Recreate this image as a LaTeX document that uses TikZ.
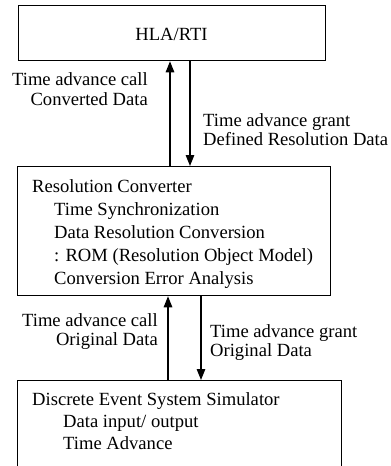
\documentclass[tikz,border=0pt]{standalone}
\usepackage{fontspec}
\setmainfont{Liberation Serif}
\usetikzlibrary{arrows.meta}
\begin{document}
\begin{tikzpicture}[x=1pt,y=-1pt,
  box/.style={draw, line width=1.3pt, inner sep=0pt, anchor=north west},
  txt/.style={inner sep=0pt, font=\fontsize{18.6}{22}\selectfont},
  lbl/.style={inner sep=0pt, font=\fontsize{18.6}{22}\selectfont},
  arr/.style={line width=1.3pt, -{Triangle[length=11pt,width=8.5pt]}}]
\useasboundingbox (0,0) rectangle (391,466);
% boxes
\node[box, minimum width=307pt, minimum height=55pt] (hla) at (18,5) {};
\node[txt, anchor=base] (hlat) at (171.5,40) {HLA/RTI};
\node[box, minimum width=313pt, minimum height=129pt] (rc) at (17,166) {};
\node[box, minimum width=324pt, minimum height=110pt] (des) at (17,380) {};
% RC text
\node[txt, anchor=base west] (rc1) at (32,192) {Resolution Converter};
\node[txt, anchor=base west] (rc2) at (54,215) {Time Synchronization};
\node[txt, anchor=base west] (rc3) at (54,238) {Data Resolution Conversion};
\node[txt, anchor=base west] (rc4) at (54,261) {: ROM (Resolution Object Model)};
\node[txt, anchor=base west] (rc5) at (54,284) {Conversion Error Analysis};
% DES text
\node[txt, anchor=base west] (d1) at (32,405) {Discrete Event System Simulator};
\node[txt, anchor=base west] (d2) at (63,427) {Data input/ output};
\node[txt, anchor=base west] (d3) at (63,449) {Time Advance};
% arrows
\draw[arr] (rc.north -| 170,0) -- (hla.south -| 170,0);
\draw[arr] (hla.south -| 190,0) -- (rc.north -| 190,0);
\draw[arr] (des.north -| 168,0) -- (rc.south -| 168,0);
\draw[arr] (rc.south -| 201,0) -- (des.north -| 201,0);
% labels
\node[lbl, anchor=base east] (l1) at (148,85) {Time advance call};
\node[lbl, anchor=base east] (l2) at (148,105) {Converted Data};
\node[lbl, anchor=base west] (l3) at (203,126) {Time advance grant};
\node[lbl, anchor=base west] (l4) at (203,145) {Defined Resolution Data};
\node[lbl, anchor=base east] (l5) at (158,326) {Time advance call};
\node[lbl, anchor=base east] (l6) at (158,345) {Original Data};
\node[lbl, anchor=base west] (l7) at (210,337) {Time advance grant};
\node[lbl, anchor=base west] (l8) at (210,356) {Original Data};
\end{tikzpicture}
\end{document}
